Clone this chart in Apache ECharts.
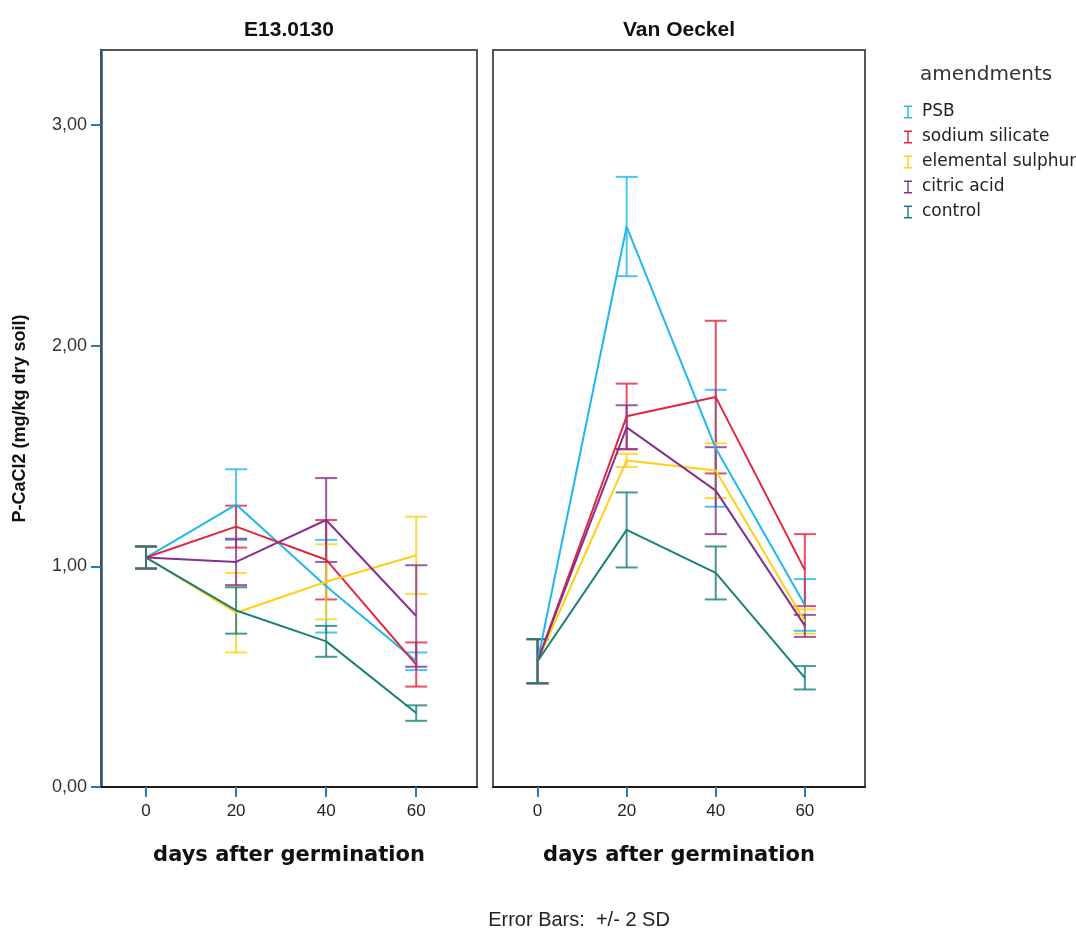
<!DOCTYPE html>
<html>
<head>
<meta charset="utf-8">
<title>P-CaCl2 by amendment</title>
<script src="https://cdn.jsdelivr.net/npm/echarts@6/dist/echarts.min.js"></script>
<style>
  html, body { margin: 0; padding: 0; background: #ffffff; }
  #chart { width: 1076px; height: 931px; }
</style>
</head>
<body>
<div id="chart"></div>
<script>
// Sampling days and tick positions
const days = [0, 20, 40, 60];
const xTicks = [0, 20, 40, 60];
const yTicks = [0, 1, 2, 3];

// Treatment groups
const groups = ['PSB', 'sodium silicate', 'elemental sulphur', 'citric acid', 'control'];
const groupColors = ['#1eb8ef', '#e2263e', '#ffcf14', '#87308d', '#1a8078'];

// Panel titles
const panelTitles = ['E13.0130', 'Van Oeckel'];

// E13.0130 – means (mg/kg dry soil) and 2 SD half-widths
const e13PSB = [1.04, 1.28, 0.91, 0.57];
const e13PSB2SD = [0.05, 0.16, 0.21, 0.04];
const e13Silicate = [1.04, 1.18, 1.03, 0.555];
const e13Silicate2SD = [0.05, 0.095, 0.18, 0.10];
const e13Sulphur = [1.04, 0.79, 0.93, 1.05];
const e13Sulphur2SD = [0.05, 0.18, 0.17, 0.175];
const e13Citric = [1.04, 1.02, 1.21, 0.775];
const e13Citric2SD = [0.05, 0.105, 0.19, 0.23];
const e13Control = [1.04, 0.80, 0.66, 0.335];
const e13Control2SD = [0.05, 0.105, 0.07, 0.035];

// Van Oeckel – means (mg/kg dry soil) and 2 SD half-widths
const voPSB = [0.57, 2.54, 1.535, 0.825];
const voPSB2SD = [0.10, 0.225, 0.265, 0.117];
const voSilicate = [0.57, 1.68, 1.767, 0.983];
const voSilicate2SD = [0.10, 0.148, 0.346, 0.163];
const voSulphur = [0.57, 1.48, 1.434, 0.75];
const voSulphur2SD = [0.10, 0.03, 0.124, 0.055];
const voCitric = [0.57, 1.63, 1.343, 0.73];
const voCitric2SD = [0.10, 0.10, 0.197, 0.05];
const voControl = [0.57, 1.165, 0.97, 0.495];
const voControl2SD = [0.10, 0.17, 0.12, 0.053];

const panelMeans = [
  [e13PSB, e13Silicate, e13Sulphur, e13Citric, e13Control],
  [voPSB, voSilicate, voSulphur, voCitric, voControl]
];
const panel2SD = [
  [e13PSB2SD, e13Silicate2SD, e13Sulphur2SD, e13Citric2SD, e13Control2SD],
  [voPSB2SD, voSilicate2SD, voSulphur2SD, voCitric2SD, voControl2SD]
];

const chart = echarts.init(document.getElementById('chart'), null, { renderer: 'canvas' });

const TICK_BLUE = '#2a7ab8';
const TEXT = '#222222';
const CAP_HALF = 11;

// Vertical whisker with a cap at each end, spanning mean ± 2 SD
function errorBarRenderer(color) {
  return function (params, api) {
    const x = api.value(0);
    const pLo = api.coord([x, api.value(1)]);
    const pHi = api.coord([x, api.value(2)]);
    const style = { stroke: color, lineWidth: 2, opacity: 0.8 };
    return {
      type: 'group',
      children: [
        { type: 'line', shape: { x1: pHi[0], y1: pHi[1], x2: pLo[0], y2: pLo[1] }, style: style },
        { type: 'line', shape: { x1: pHi[0] - CAP_HALF, y1: pHi[1], x2: pHi[0] + CAP_HALF, y2: pHi[1] }, style: style },
        { type: 'line', shape: { x1: pLo[0] - CAP_HALF, y1: pLo[1], x2: pLo[0] + CAP_HALF, y2: pLo[1] }, style: style }
      ]
    };
  };
}

const series = [];
for (let p = 0; p < 2; p++) {
  groups.forEach(function (name, g) {
    const means = panelMeans[p][g];
    const sd2 = panel2SD[p][g];
    series.push({
      name: name,
      type: 'custom',
      xAxisIndex: p,
      yAxisIndex: p,
      renderItem: errorBarRenderer(groupColors[g]),
      encode: { x: 0, y: [1, 2] },
      data: days.map(function (d, i) { return [d, means[i] - sd2[i], means[i] + sd2[i]]; }),
      itemStyle: { color: groupColors[g] },
      z: 2,
      silent: true
    });
  });
  groups.forEach(function (name, g) {
    const means = panelMeans[p][g];
    series.push({
      name: name,
      type: 'line',
      xAxisIndex: p,
      yAxisIndex: p,
      showSymbol: false,
      symbol: 'none',
      data: days.map(function (d, i) { return [d, means[i]]; }),
      lineStyle: { color: groupColors[g], width: 2 },
      itemStyle: { color: groupColors[g] },
      z: 3,
      silent: true
    });
  });
}

const grids = [
  { left: 101, top: 50, width: 376, height: 737 },
  { left: 493, top: 50, width: 372, height: 737 }
];

function xAxisFor(i) {
  return {
    type: 'value',
    gridIndex: i,
    min: -10,
    max: 73.5,
    name: 'days after germination',
    nameLocation: 'middle',
    nameGap: 58,
    nameTextStyle: { fontFamily: 'DejaVu Sans', fontWeight: 'bold', fontSize: 21, color: '#111' },
    axisLine: { show: true, onZero: false, lineStyle: { color: '#1a1a1a', width: 2 } },
    axisTick: { show: true, length: 10, customValues: xTicks, lineStyle: { color: TICK_BLUE, width: 2 } },
    axisLabel: {
      customValues: xTicks,
      margin: 16,
      fontFamily: 'Liberation Sans Narrow, Liberation Sans, Arial',
      fontSize: 17,
      color: TEXT
    },
    splitLine: { show: false }
  };
}

function yAxisFor(i) {
  const visible = i === 0;
  return {
    type: 'value',
    gridIndex: i,
    min: 0,
    max: 3.34,
    show: visible,
    name: visible ? 'P-CaCl2 (mg/kg dry soil)' : '',
    nameLocation: 'middle',
    nameGap: 72,
    nameRotate: 90,
    nameTextStyle: { fontFamily: 'Liberation Sans', fontWeight: 'bold', fontSize: 18, color: '#111' },
    axisLine: { show: visible, onZero: false, lineStyle: { color: '#35526b', width: 2.5 } },
    axisTick: { show: visible, length: 10, customValues: yTicks, lineStyle: { color: TICK_BLUE, width: 2 } },
    axisLabel: {
      show: visible,
      customValues: yTicks,
      margin: 14,
      fontFamily: 'Liberation Sans, Arial',
      fontSize: 18,
      color: '#333',
      formatter: function (v) { return v.toFixed(2).replace('.', ','); }
    },
    splitLine: { show: false }
  };
}

const legendIcon = 'path://M0,0H8V1.4H4.7V11.6H8V13H0V11.6H3.3V1.4H0Z';

const option = {
  backgroundColor: '#ffffff',
  animation: false,
  grid: grids.map(function (g) {
    return Object.assign({ show: true, borderColor: '#555555', borderWidth: 2, backgroundColor: 'transparent', containLabel: false }, g);
  }),
  xAxis: [xAxisFor(0), xAxisFor(1)],
  yAxis: [yAxisFor(0), yAxisFor(1)],
  legend: {
    orient: 'vertical',
    left: 904,
    top: 102,
    padding: 0,
    itemWidth: 8,
    itemHeight: 14,
    itemGap: 5,
    selectedMode: false,
    data: groups.map(function (g) { return { name: g, icon: legendIcon }; }),
    textStyle: { fontFamily: 'DejaVu Sans', fontSize: 17, color: TEXT, lineHeight: 20, padding: [0, 0, 0, 5] }
  },
  graphic: [
    {
      type: 'text', x: 289, y: 30,
      style: { text: panelTitles[0], fill: '#111', font: 'bold 21px "Liberation Sans", Arial', textAlign: 'center', textVerticalAlign: 'middle' }
    },
    {
      type: 'text', x: 679, y: 30,
      style: { text: panelTitles[1], fill: '#111', font: 'bold 21px "Liberation Sans", Arial', textAlign: 'center', textVerticalAlign: 'middle' }
    },
    {
      type: 'text', x: 920, y: 75,
      style: { text: 'amendments', fill: '#333', font: '20px "DejaVu Sans"', textAlign: 'left', textVerticalAlign: 'middle' }
    },
    {
      type: 'text', x: 579, y: 920,
      style: { text: 'Error Bars:  +/- 2 SD', fill: TEXT, font: '20px "Liberation Sans", Arial', textAlign: 'center', textVerticalAlign: 'middle' }
    }
  ],
  series: series
};

chart.setOption(option);
</script>
</body>
</html>
